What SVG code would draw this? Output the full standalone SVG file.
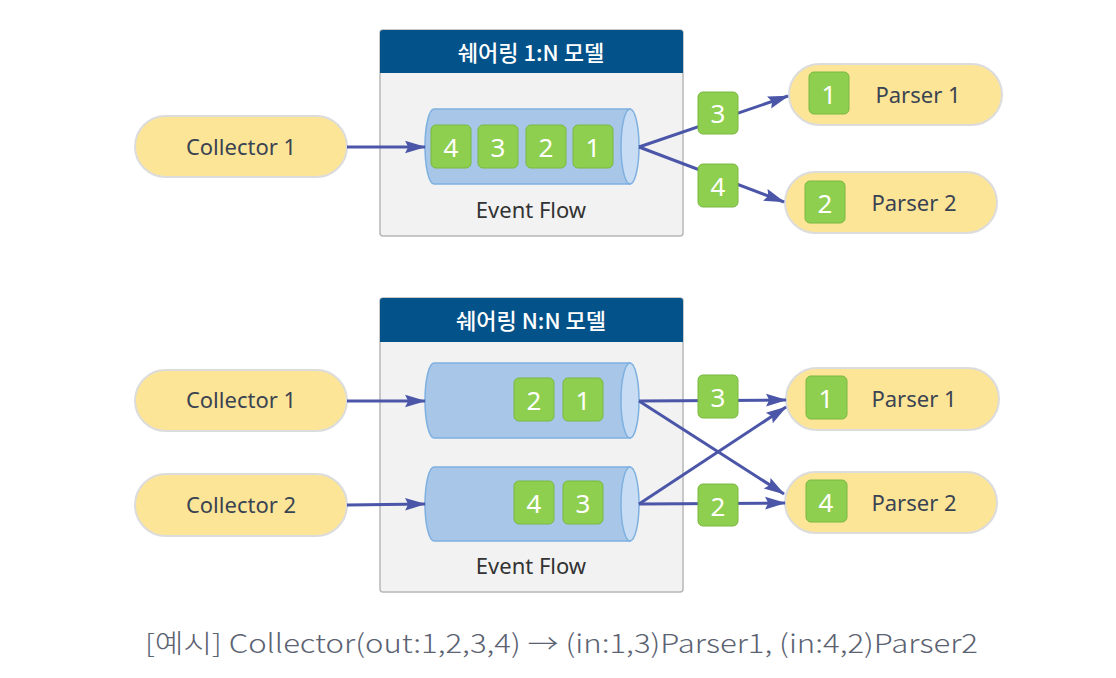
<svg xmlns="http://www.w3.org/2000/svg" width="1116" height="678" viewBox="0 0 1116 678">
<defs>
<marker id="ah" viewBox="0 0 10 10" refX="9.5" refY="5" markerWidth="7" markerHeight="7" orient="auto" markerUnits="strokeWidth"><path d="M0,2 L10,5 L0,8 L1.5,5 z" fill="#4b56a8"/></marker>
<style>
.pill{fill:#fde597;stroke:#dcdcdc;stroke-width:2}
.lbl{font-family:"Noto Sans","Liberation Sans",sans-serif;font-size:22px;fill:#3a4352;text-anchor:middle;dominant-baseline:central}
.box{fill:#f2f2f2;stroke:#b8b8b8;stroke-width:1.5}
.hdr{fill:#03528a}
.htx{font-family:"Noto Sans CJK KR","Noto Sans",sans-serif;font-size:22px;font-weight:500;fill:#fff;text-anchor:middle;dominant-baseline:central}
.cyl{fill:#a8c6e8;stroke:#7eb0e0;stroke-width:1.5}
.cap{fill:#c8ddf3;stroke:#7eb0e0;stroke-width:1.5}
.sq{fill:#8fcf50;stroke:#78b840;stroke-width:1}
.sqt{font-family:"Noto Sans","Liberation Sans",sans-serif;font-size:26px;fill:#fff;text-anchor:middle;dominant-baseline:central}
.ef{font-family:"Noto Sans","Liberation Sans",sans-serif;font-size:22px;fill:#333;text-anchor:middle;dominant-baseline:central}
.con{stroke:#4b56a8;stroke-width:3;fill:none}
</style>
</defs>

<!-- Top model -->
<g id="box1">
<rect class="box" x="380" y="30" width="303" height="206" rx="3"/>
<path class="hdr" d="M380,73 V33 a3,3 0 0 1 3,-3 H680 a3,3 0 0 1 3,3 V73 z"/>
<text class="htx" x="531" y="51">쉐어링 1:N 모델</text>
<path class="cyl" d="M434,109 H630 V184 H434 A9,37.5 0 0 1 434,109 z"/>
<ellipse class="cap" cx="630" cy="146.5" rx="9" ry="37.5"/>
<rect class="sq" x="431" y="125" width="40" height="43" rx="5"/><text class="sqt" x="451" y="147">4</text>
<rect class="sq" x="478" y="125" width="40" height="43" rx="5"/><text class="sqt" x="498" y="147">3</text>
<rect class="sq" x="526" y="125" width="40" height="43" rx="5"/><text class="sqt" x="546" y="147">2</text>
<rect class="sq" x="573" y="125" width="40" height="43" rx="5"/><text class="sqt" x="593" y="147">1</text>
<text class="ef" x="531" y="209">Event Flow</text>
</g>

<g id="collector1a">
<rect class="pill" x="135" y="116" width="212" height="61" rx="30.5"/>
<text class="lbl" x="241" y="146">Collector 1</text>
</g>
<g id="parser1a">
<rect class="pill" x="789" y="64" width="213" height="61" rx="30.5"/>
<rect class="sq" x="809" y="72" width="40" height="42" rx="5"/><text class="sqt" x="829" y="94">1</text>
<text class="lbl" x="918" y="94">Parser 1</text>
</g>
<g id="parser2a">
<rect class="pill" x="785" y="172" width="212" height="61" rx="30.5"/>
<rect class="sq" x="805" y="181" width="40" height="42" rx="5"/><text class="sqt" x="825" y="203">2</text>
<text class="lbl" x="914" y="202">Parser 2</text>
</g>

<!-- Bottom model -->
<g id="box2">
<rect class="box" x="380" y="298" width="303" height="294" rx="3"/>
<path class="hdr" d="M380,342 V301 a3,3 0 0 1 3,-3 H680 a3,3 0 0 1 3,3 V342 z"/>
<text class="htx" x="531" y="319">쉐어링 N:N 모델</text>
<path class="cyl" d="M434,363 H630 V438 H434 A9,37.5 0 0 1 434,363 z"/>
<ellipse class="cap" cx="630" cy="400.5" rx="9" ry="37.5"/>
<rect class="sq" x="514" y="378" width="40" height="43" rx="5"/><text class="sqt" x="534" y="400">2</text>
<rect class="sq" x="563" y="378" width="40" height="43" rx="5"/><text class="sqt" x="583" y="400">1</text>
<path class="cyl" d="M434,467 H630 V541 H434 A9,37 0 0 1 434,467 z"/>
<ellipse class="cap" cx="630" cy="504" rx="9" ry="37"/>
<rect class="sq" x="514" y="481" width="40" height="43" rx="5"/><text class="sqt" x="534" y="503">4</text>
<rect class="sq" x="563" y="481" width="40" height="43" rx="5"/><text class="sqt" x="583" y="503">3</text>
<text class="ef" x="531" y="565">Event Flow</text>
</g>

<g id="collector1b">
<rect class="pill" x="135" y="370" width="212" height="61" rx="30.5"/>
<text class="lbl" x="241" y="399">Collector 1</text>
</g>
<g id="collector2b">
<rect class="pill" x="135" y="474" width="212" height="62" rx="31"/>
<text class="lbl" x="241" y="504">Collector 2</text>
</g>
<g id="parser1b">
<rect class="pill" x="786" y="368" width="213" height="62" rx="31"/>
<rect class="sq" x="806" y="376" width="41" height="43" rx="5"/><text class="sqt" x="826" y="398">1</text>
<text class="lbl" x="914" y="398">Parser 1</text>
</g>
<g id="parser2b">
<rect class="pill" x="785" y="472" width="212" height="61" rx="30.5"/>
<rect class="sq" x="806" y="480" width="41" height="42" rx="5"/><text class="sqt" x="826" y="502">4</text>
<text class="lbl" x="914" y="502">Parser 2</text>
</g>

<g id="connectors">
<line class="con" x1="347" y1="147" x2="425" y2="147" marker-end="url(#ah)"/>
<line class="con" x1="639" y1="147" x2="788" y2="96" marker-end="url(#ah)"/>
<line class="con" x1="639" y1="147" x2="784" y2="202" marker-end="url(#ah)"/>
<line class="con" x1="347" y1="401" x2="425" y2="401" marker-end="url(#ah)"/>
<line class="con" x1="347" y1="505" x2="425" y2="504" marker-end="url(#ah)"/>
<line class="con" x1="639" y1="401" x2="786" y2="400" marker-end="url(#ah)"/>
<line class="con" x1="639" y1="401" x2="784" y2="494" marker-end="url(#ah)"/>
<line class="con" x1="639" y1="504" x2="786" y2="407" marker-end="url(#ah)"/>
<line class="con" x1="639" y1="504" x2="785" y2="503" marker-end="url(#ah)"/>
<g id="edgelabels">
<rect class="sq" x="698" y="92" width="40" height="42" rx="5"/><text class="sqt" x="718" y="113">3</text>
<rect class="sq" x="698" y="164" width="40" height="43" rx="5"/><text class="sqt" x="718" y="186">4</text>
<rect class="sq" x="698" y="375" width="40" height="43" rx="5"/><text class="sqt" x="718" y="397">3</text>
<rect class="sq" x="698" y="484" width="40" height="42" rx="5"/><text class="sqt" x="718" y="506">2</text>
</g>
</g>

<text x="145" y="641" textLength="833" lengthAdjust="spacingAndGlyphs" font-family="'Noto Sans CJK KR','Noto Sans',sans-serif" font-size="26" font-weight="300" fill="#5b6272" dominant-baseline="central">[예시] Collector(out:1,2,3,4) → (in:1,3)Parser1, (in:4,2)Parser2</text>
</svg>
